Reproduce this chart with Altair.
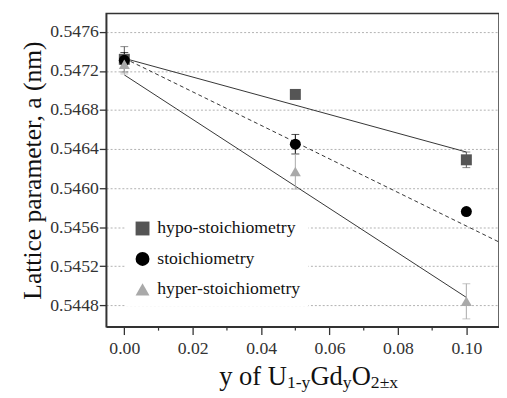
import altair as alt
import pandas as pd

# ---- data ----
series = ["hypo-stoichiometry", "stoichiometry", "hyper-stoichiometry"]
gd_y = [0.0, 0.05, 0.10]
hypo_a = [0.54732, 0.54696, 0.54629]
hypo_err = [0.00013, 0.00003, 0.00008]
stoich_a = [0.54731, 0.54645, 0.54576]
stoich_err = [0.00008, 0.00010, 0.00003]
hyper_a = [0.54727, 0.54617, 0.54484]
hyper_err = [0.00010, 0.00018, 0.00018]

# linear fits (end points)
fit_hypo_x = [0.0, 0.10]
fit_hypo_a = [0.54733, 0.54637]
fit_stoich_x = [0.0, 0.11]
fit_stoich_a = [0.54733, 0.54544]
fit_hyper_x = [0.0, 0.10]
fit_hyper_a = [0.54716, 0.54488]

x_ticks = [0.0, 0.02, 0.04, 0.06, 0.08, 0.10]
x_minor = [0.01, 0.03, 0.05, 0.07, 0.09]
y_ticks = [0.5448, 0.5452, 0.5456, 0.5460, 0.5464, 0.5468, 0.5472, 0.5476]

colors = ["#555555", "#000000", "#a9a9a9"]
shapes = ["square", "circle", "triangle-up"]

rows = []
for i, (s, vals, errs) in enumerate([(series[0], hypo_a, hypo_err),
                                     (series[1], stoich_a, stoich_err),
                                     (series[2], hyper_a, hyper_err)]):
    for xv, av, ev in zip(gd_y, vals, errs):
        rows.append({"series": s, "k": i, "y": xv, "a": av, "lo": av - ev, "hi": av + ev})
pts = pd.DataFrame(rows)

fit_rows = []
for s, xs, as_ in [("hypo", fit_hypo_x, fit_hypo_a),
                   ("stoich", fit_stoich_x, fit_stoich_a),
                   ("hyper", fit_hyper_x, fit_hyper_a)]:
    for xv, av in zip(xs, as_):
        fit_rows.append({"fit": s, "y": xv, "a": av})
fits = pd.DataFrame(fit_rows)

FONT = "Times New Roman, Liberation Serif, serif"
W, H = 400, 319
xscale = alt.Scale(domain=[-0.0053, -0.0053 + W / 3483.0], nice=False, zero=False)
yscale = alt.Scale(domain=[0.54458, 0.54779], nice=False, zero=False)

xenc = alt.X("y:Q", scale=xscale,
             axis=alt.Axis(values=x_ticks, format=".2f", title=None, grid=False,
                           tickSize=8, labelPadding=5))
yenc = alt.Y("a:Q", scale=yscale,
             axis=alt.Axis(values=y_ticks, format=".4f",
                           title="Lattice parameter, a (nm)",
                           titleFontSize=26, titlePadding=4,
                           grid=True, gridDash=[2, 2], gridColor="#b0b0b0",
                           tickSize=7, labelPadding=1))
X = alt.X("y:Q", scale=xscale)

base_fit = alt.Chart(fits)
fit_solid = base_fit.transform_filter(alt.datum.fit != "stoich").mark_line(
    color="#333", strokeWidth=1, clip=True).encode(x=xenc, y=yenc, detail="fit:N")
fit_dash = base_fit.transform_filter(alt.datum.fit == "stoich").mark_line(
    color="#333", strokeWidth=1, strokeDash=[4, 3], clip=True).encode(
    x=X, y=alt.Y("a:Q", scale=yscale))

err_layers = []
for i, c in enumerate(colors):
    src = alt.Chart(pts).transform_filter(alt.datum.k == i)
    err_layers.append(src.mark_rule(strokeWidth=1, color=c).encode(
        x=X, y=alt.Y("lo:Q", scale=yscale), y2="hi:Q"))
    err_layers.append(src.mark_tick(orient="horizontal", size=8, thickness=1, color=c).encode(
        x=X, y=alt.Y("hi:Q", scale=yscale)))
    err_layers.append(src.mark_tick(orient="horizontal", size=8, thickness=1, color=c).encode(
        x=X, y=alt.Y("lo:Q", scale=yscale)))

leg = alt.Legend(title=None, orient="none", legendX=20, legendY=202,
                 fillColor="white", padding=8, symbolSize=200,
                 symbolStrokeWidth=0, labelFontSize=18,
                 labelColor="#111", labelOffset=6, rowPadding=13)
points = alt.Chart(pts).mark_point(filled=True, size=125, opacity=1).encode(
    x=X, y=alt.Y("a:Q", scale=yscale),
    color=alt.Color("series:N", scale=alt.Scale(domain=series, range=colors), legend=leg),
    shape=alt.Shape("series:N", scale=alt.Scale(domain=series, range=shapes), legend=leg),
    order=alt.Order("k:Q"),
)

minor = alt.Chart(pd.DataFrame({"y": x_minor})).mark_rule(color="#333", strokeWidth=1.2).encode(
    x=X, y=alt.value(H), y2=alt.value(H + 4))

# x axis title with subscripts
pieces = [("y of U", 115, 378, 27), ("1-y", 184, 381.5, 18), ("Gd", 208, 378, 27),
          ("y", 241, 381.5, 18), ("O", 250, 378, 27), ("2±x", 269.5, 381.5, 18)]
title_layers = [
    alt.Chart(pd.DataFrame({"t": [t]})).mark_text(
        text=t, font=FONT, fontSize=fs, align="left", baseline="alphabetic", color="#111"
    ).encode(x=alt.value(px), y=alt.value(py))
    for t, px, py, fs in pieces
]

chart = alt.layer(fit_solid, fit_dash, *err_layers, points, minor, *title_layers).properties(
    width=W, height=H,
    autosize=alt.AutoSizeParams(type="none"),
    padding={"left": 100, "top": 2, "right": 0, "bottom": 65},
).configure_view(stroke="#333", strokeWidth=1.5).configure_axis(
    labelFont=FONT, labelFontSize=18, labelColor="#333",
    titleFont=FONT, titleFontWeight="normal", titleColor="#111",
    domainColor="#333", domainWidth=1.5, tickColor="#333", tickWidth=1.3,
).configure_legend(labelFont=FONT).configure_text(font=FONT)

chart.save("out.html", embed_options={"renderer": "svg", "actions": False})
